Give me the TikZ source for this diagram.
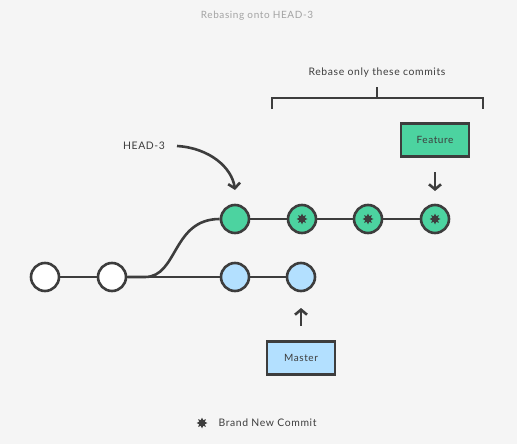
\documentclass[tikz,border=0pt]{standalone}
\usepackage{fontspec}
\setmainfont{Lato}[LetterSpace=6]
\usetikzlibrary{shapes.geometric,arrows.meta}
\definecolor{bgcol}{HTML}{F5F5F5}
\definecolor{ink}{HTML}{3D3D3D}
\definecolor{featcol}{HTML}{4CD3A0}
\definecolor{mastcol}{HTML}{B3E0FF}
\definecolor{capcol}{HTML}{A3A3A3}
\tikzset{
  commit/.style={circle,draw=ink,line width=2.6pt,minimum size=28pt,inner sep=0pt},
  newmark/.style={star,star points=8,star point ratio=1.8,fill=ink,inner sep=0pt,minimum size=11pt},
  branch/.style={draw=ink,line width=2.6pt,minimum width=68pt,minimum height=33pt,inner sep=0pt,font=\fontsize{10}{12}\selectfont,text=ink},
  link/.style={draw=ink,line width=2.6pt},
  tip/.style={draw=ink,line width=2.6pt,-{Straight Barb[length=5pt,width=12pt]}},
  label/.style={font=\fontsize{10.4}{12}\selectfont,text=ink}
}
\begin{document}
\begin{tikzpicture}[x=1pt,y=-1pt]
\fill[bgcol] (0,0) rectangle (517,444);
\useasboundingbox (0,0) rectangle (517,444);
\node[font=\fontsize{10}{12}\selectfont,text=capcol] (title) at (257,16) {Rebasing onto HEAD-3};
% old commits
\node[commit,fill=white] (c1) at (45,277) {};
\node[commit,fill=white] (c2) at (112,277) {};
% master
\node[commit,fill=mastcol] (m1) at (235,277) {};
\node[commit,fill=mastcol] (m2) at (301,277) {};
% rebased feature
\node[commit,fill=featcol] (f0) at (235,219) {};
\node[commit,fill=featcol] (f1) at (302,219) {};
\node[commit,fill=featcol] (f2) at (368,219) {};
\node[commit,fill=featcol] (f3) at (435,219) {};
\foreach \c in {f1,f2,f3}
  \node[newmark] at (\c) {};
\draw[link] (c1) -- (c2) -- (m1) -- (m2);
\draw[link] (f0) -- (f1) -- (f2) -- (f3);
\draw[link] (c2.east) -- (145,277) .. controls (178,277) and (172,219) .. (f0.west);
% branch labels
\node[branch,fill=featcol] (feature) at (435,140) {Feature};
\node[branch,fill=mastcol] (master) at (301,358) {Master};
\coordinate (fa) at (435,172);
\coordinate (ma) at (301,326);
\draw[tip] (fa) -- (435,191);
\draw[tip] (ma) -- (301,308);
% bracket
\draw[link] (272,109) -- (272,98) -- (483,98) -- (483,109);
\draw[link] (377,98) -- (377,87);
\node[label] (only) at (377,73) {Rebase only these commits};
% HEAD-3 pointer
\node[label] (head) at (144,146) {HEAD-3};
\draw[tip] (177,146) .. controls (210,148) and (232,168) .. (235,190);
% legend
\node[newmark] (key) at (202,423) {};
\node[label,anchor=west] (keytext) at (215,423) {Brand New Commit};
\end{tikzpicture}
\end{document}
